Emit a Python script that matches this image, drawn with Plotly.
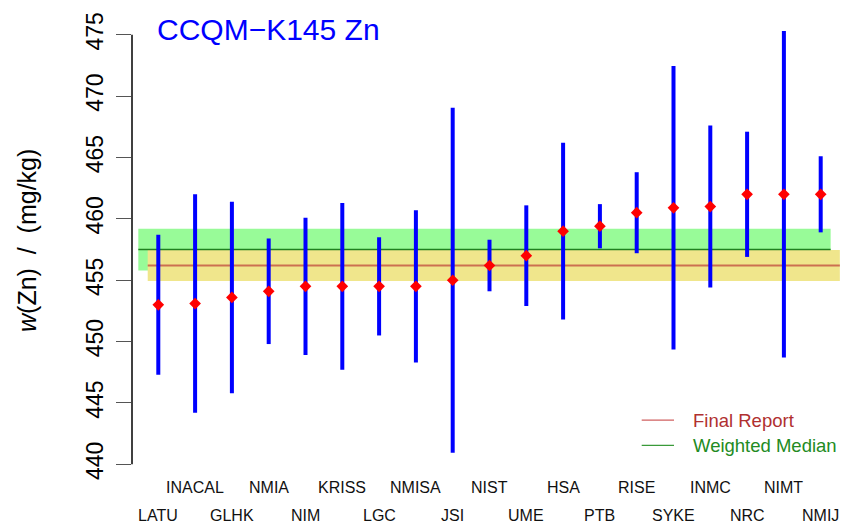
import plotly.graph_objects as go

# ---- data ----
labs = ["LATU", "INACAL", "GLHK", "NMIA", "NIM", "KRISS", "LGC", "NMISA", "JSI", "NIST",
        "UME", "HSA", "PTB", "RISE", "SYKE", "INMC", "NRC", "NIMT", "NMIJ"]
values = [453.0, 453.1, 453.6, 454.1, 454.5, 454.5, 454.5, 454.5, 455.0, 456.2,
          457.0, 459.0, 459.4, 460.5, 460.9, 461.0, 462.0, 462.0, 462.0]
unc = [5.7, 8.9, 7.8, 4.3, 5.6, 6.8, 4.0, 6.2, 14.05, 2.1,
       4.1, 7.2, 1.8, 3.3, 11.55, 6.6, 5.1, 13.3, 3.1]
final_report = 456.2
final_report_u = 1.27
weighted_median = 457.5
weighted_median_u = 1.7
y_ticks = [440, 445, 450, 455, 460, 465, 470, 475]
title_text = "CCQM\u2212K145 Zn"

x_idx = list(range(1, len(labs) + 1))

# ---- layout geometry ----
W, H = 843, 525
ML, MR, MT, MB = 132, 0, 20, 55
PW, PH = W - ML - MR, H - MT - MB
X_RANGE = [0.2853, 19.606]
Y_RANGE = [439.54, 476.2]


def px(xp):
    return (xp - ML) / PW


def py(yp):
    return (H - MB - yp) / PH


FONT = "Liberation Sans, Arial, Helvetica, sans-serif"

fig = go.Figure()

shapes = [
    dict(type="rect", xref="x", yref="y", x0=0.457, x1=19.27,
         y0=weighted_median - weighted_median_u, y1=weighted_median + weighted_median_u,
         fillcolor="#98FB98", line=dict(width=0), layer="below"),
    dict(type="rect", xref="x", yref="y", x0=0.712, x1=19.52,
         y0=final_report - final_report_u, y1=final_report + final_report_u,
         fillcolor="#F0E68C", line=dict(width=0), layer="below"),
    dict(type="line", xref="x", yref="y", x0=0.457, x1=19.27,
         y0=weighted_median, y1=weighted_median,
         line=dict(color="#1F801F", width=1.4), layer="below"),
    dict(type="line", xref="x", yref="y", x0=0.712, x1=19.52,
         y0=final_report, y1=final_report,
         line=dict(color="#CC7050", width=2), layer="below"),
    dict(type="line", xref="paper", yref="y", x0=0, x1=0,
         y0=y_ticks[0], y1=y_ticks[-1], line=dict(color="black", width=1.5)),
    dict(type="line", xref="paper", yref="paper", x0=px(641.7), x1=px(674),
         y0=py(420.2), y1=py(420.2), line=dict(color="#D06060", width=1.2)),
    dict(type="line", xref="paper", yref="paper", x0=px(641.7), x1=px(674),
         y0=py(445.3), y1=py(445.3), line=dict(color="#3A9A3A", width=1.2)),
]

fig.add_trace(go.Scatter(
    x=x_idx, y=values, mode="markers",
    marker=dict(symbol="diamond", size=9, color="#FF0000", line=dict(width=0)),
    error_y=dict(type="data", array=unc, visible=True, color="#0000FF",
                 thickness=4, width=0),
    showlegend=False, hoverinfo="skip",
))

annotations = []
for i, lab in enumerate(labs):
    row2 = (i % 2 == 0)
    annotations.append(dict(
        x=x_idx[i], xref="x", y=0, yref="paper", text=lab, showarrow=False,
        xanchor="center", yanchor="middle",
        yshift=-(515 - (H - MB)) if row2 else -(487.3 - (H - MB)),
        font=dict(family=FONT, size=16, color="#111111"),
    ))

annotations.append(dict(
    x=px(155), xref="paper", y=py(29), yref="paper", text=title_text,
    showarrow=False, xanchor="left", yanchor="middle",
    font=dict(family=FONT, size=30, color="#0000FF"),
))
annotations.append(dict(
    x=px(27), xref="paper", y=py(241), yref="paper",
    text="<i>w</i>(Zn)\u00a0\u00a0/\u00a0\u00a0(mg/kg)", showarrow=False,
    textangle=-90, xanchor="center", yanchor="middle",
    font=dict(family=FONT, size=25, color="black"),
))
annotations.append(dict(
    x=px(690.7), xref="paper", y=py(420.7), yref="paper", text="Final Report",
    showarrow=False, xanchor="left", yanchor="middle",
    font=dict(family=FONT, size=18.5, color="#B03030"),
))
annotations.append(dict(
    x=px(690.7), xref="paper", y=py(445.7), yref="paper", text="Weighted Median",
    showarrow=False, xanchor="left", yanchor="middle",
    font=dict(family=FONT, size=18.5, color="#228B22"),
))

fig.update_layout(
    width=W, height=H,
    margin=dict(l=ML, r=MR, t=MT, b=MB, pad=0),
    paper_bgcolor="white", plot_bgcolor="white",
    shapes=shapes, annotations=annotations,
    xaxis=dict(range=X_RANGE, showgrid=False, zeroline=False, showline=False,
               showticklabels=False, ticks=""),
    yaxis=dict(range=Y_RANGE, showgrid=False, zeroline=False, showline=False,
               tickmode="array", tickvals=y_ticks, ticktext=[str(v) for v in y_ticks],
               ticks="outside", ticklen=15, tickwidth=1.2, tickcolor="#555555",
               tickangle=-90, ticklabelstandoff=4,
               tickfont=dict(family=FONT, size=23, color="black")),
    showlegend=False,
)

fig.write_html("out.html", config={"displayModeBar": False},
               post_script="document.body.style.margin='0';")
